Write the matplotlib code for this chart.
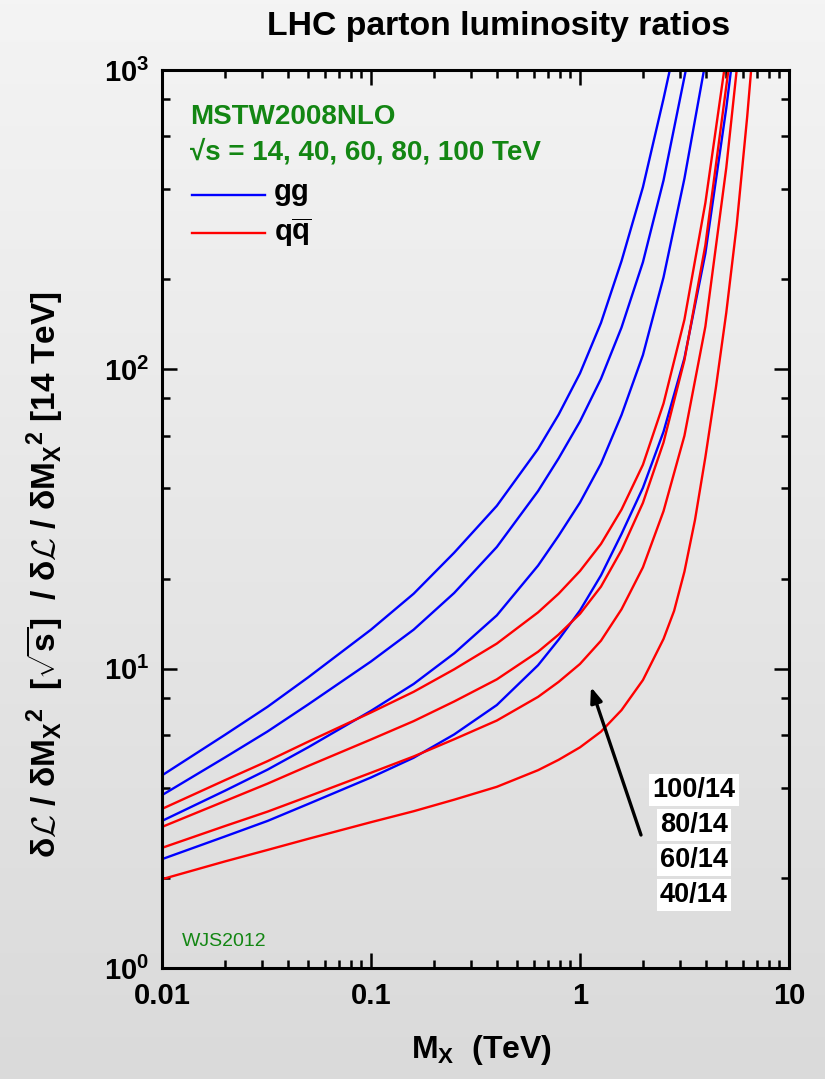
import numpy as np
import matplotlib
matplotlib.use('Agg')
import matplotlib.pyplot as plt
from matplotlib.colors import LinearSegmentedColormap
from matplotlib.ticker import FixedLocator, LogLocator, NullFormatter

plt.rcParams['font.family'] = ['Liberation Sans', 'DejaVu Sans']
plt.rcParams['mathtext.fontset'] = 'custom'
plt.rcParams['mathtext.rm'] = 'Liberation Sans'
plt.rcParams['mathtext.bf'] = 'Liberation Sans:bold'
plt.rcParams['mathtext.it'] = 'Liberation Sans:italic'
plt.rcParams['mathtext.cal'] = 'cmsy10'

# gg luminosity ratios, sqrt(s) / 14 TeV
mx_gg100 = [0.01, 0.02, 0.032, 0.05, 0.1, 0.16, 0.25, 0.4, 0.63, 0.79, 1.0, 1.26, 1.58, 2.0, 2.51, 2.69]
gg100 = [4.40, 6.01, 7.46, 9.35, 13.5, 17.8, 24.4, 35.0, 54.2, 70.6, 97.0, 143, 230, 406, 802, 1000]

mx_gg80 = [0.01, 0.02, 0.032, 0.05, 0.1, 0.16, 0.25, 0.4, 0.63, 0.79, 1.0, 1.26, 1.58, 2.0, 2.51, 3.21]
gg80 = [3.78, 5.05, 6.17, 7.59, 10.57, 13.5, 17.9, 25.5, 39.2, 50.4, 67.0, 93.0, 138, 228, 428, 1000]

mx_gg60 = [0.01, 0.02, 0.032, 0.05, 0.1, 0.16, 0.25, 0.4, 0.63, 0.79, 1.0, 1.26, 1.58, 2.0, 2.51, 3.16, 3.92]
gg60 = [3.10, 3.91, 4.60, 5.46, 7.23, 8.89, 11.25, 15.07, 22.1, 27.8, 35.9, 48.4, 70.4, 111.6, 203, 434, 1000]

mx_gg40 = [0.01, 0.02, 0.032, 0.05, 0.1, 0.16, 0.25, 0.4, 0.63, 0.79, 1.0, 1.26, 1.58, 2.0, 2.51, 3.16, 3.98, 5.01, 5.28]
gg40 = [2.31, 2.75, 3.10, 3.53, 4.33, 5.04, 6.03, 7.56, 10.27, 12.5, 15.65, 20.5, 28.2, 40.2, 61.9, 109, 244, 745, 1000]

# q-qbar luminosity ratios
mx_qq100 = [0.01, 0.02, 0.032, 0.05, 0.1, 0.16, 0.25, 0.4, 0.63, 0.79, 1.0, 1.26, 1.58, 2.0, 2.51, 3.16, 3.98, 4.90]
qq100 = [3.40, 4.24, 4.91, 5.70, 7.14, 8.37, 9.95, 12.13, 15.42, 17.8, 21.2, 26.1, 34.0, 48.0, 76.9, 146.6, 360, 1000]

mx_qq80 = [0.01, 0.02, 0.032, 0.05, 0.1, 0.16, 0.25, 0.4, 0.63, 0.79, 1.0, 1.26, 1.58, 2.0, 2.51, 3.16, 3.98, 5.13]
qq80 = [2.96, 3.61, 4.13, 4.73, 5.80, 6.68, 7.77, 9.21, 11.39, 13.0, 15.25, 18.8, 24.9, 35.8, 57.0, 107.4, 260, 1000]

mx_qq60 = [0.01, 0.02, 0.032, 0.05, 0.1, 0.16, 0.25, 0.4, 0.63, 0.79, 1.0, 1.26, 1.58, 2.0, 2.51, 3.16, 3.98, 5.01, 5.62]
qq60 = [2.52, 2.98, 3.33, 3.74, 4.49, 5.09, 5.81, 6.71, 8.05, 9.03, 10.37, 12.40, 15.79, 21.8, 33.6, 60.0, 139, 471, 1000]

mx_qq40 = [0.01, 0.02, 0.032, 0.05, 0.1, 0.16, 0.25, 0.4, 0.63, 0.79, 1.0, 1.26, 1.58, 2.0, 2.51,
           2.82, 3.16, 3.55, 3.98, 4.47, 5.01, 5.62, 6.31, 6.59]
qq40 = [1.98, 2.27, 2.48, 2.70, 3.07, 3.34, 3.65, 4.03, 4.58, 4.96, 5.46, 6.16, 7.27, 9.16, 12.57,
        15.6, 21.1, 31.4, 50.9, 87.0, 154.6, 303, 699, 1000]

ratio_labels = ['100/14', '80/14', '60/14', '40/14']
x_major = [0.01, 0.1, 1, 10]
x_ticklabels = ['0.01', '0.1', '1', '10']
y_major = [1, 10, 100, 1000]
y_ticklabels = [r'$\mathbf{10^{0}}$', r'$\mathbf{10^{1}}$', r'$\mathbf{10^{2}}$', r'$\mathbf{10^{3}}$']

W, H = 825, 1079
GREEN = '#138613'
BLUE = '#0000ff'
RED = '#ff0000'


def fx(px):
    return px / W


def fy(py):
    return 1 - py / H


fig = plt.figure(figsize=(W / 100, H / 100), dpi=100)

# soft grey backdrop, lighter at the top
bg = fig.add_axes([0, 0, 1, 1], zorder=-10)
shade = LinearSegmentedColormap.from_list('shade', ['#f4f4f4', '#dadada'])
bg.imshow(np.linspace(0, 1, 256)[:, None], aspect='auto', cmap=shade,
          extent=[0, 1, 0, 1], origin='upper')
bg.axis('off')

ax = fig.add_axes([fx(162), fy(968), (789 - 162) / W, (968 - 70) / H])
ax.set_facecolor('none')

for mx, lum in [(mx_gg100, gg100), (mx_gg80, gg80), (mx_gg60, gg60), (mx_gg40, gg40)]:
    ax.plot(mx, lum, color=BLUE, lw=1.7, solid_joinstyle='round')
for mx, lum in [(mx_qq100, qq100), (mx_qq80, qq80), (mx_qq60, qq60), (mx_qq40, qq40)]:
    ax.plot(mx, lum, color=RED, lw=1.7, solid_joinstyle='round')

ax.set_xscale('log')
ax.set_yscale('log')
ax.set_xlim(0.01, 10)
ax.set_ylim(1, 1000)

ax.xaxis.set_major_locator(FixedLocator(x_major))
ax.xaxis.set_minor_locator(LogLocator(base=10, subs=range(2, 10)))
ax.xaxis.set_minor_formatter(NullFormatter())
ax.set_xticklabels(x_ticklabels, fontweight='bold')
ax.yaxis.set_major_locator(FixedLocator(y_major))
ax.yaxis.set_minor_locator(LogLocator(base=10, subs=[2, 4, 6, 8]))
ax.yaxis.set_minor_formatter(NullFormatter())
ax.set_yticklabels(y_ticklabels)

ax.tick_params(which='both', direction='in', top=True, right=True, width=1.8, labelsize=21)
ax.tick_params(which='major', length=11)
ax.tick_params(which='minor', length=6)
ax.tick_params(axis='x', pad=10)
ax.tick_params(axis='y', pad=9)
for sp in ax.spines.values():
    sp.set_linewidth(2.2)

fig.text(fx(499), fy(27), 'LHC parton luminosity ratios', ha='center', va='center',
         fontsize=24.3, fontweight='bold')
fig.text(fx(481), fy(1050), r'M$_\mathbf{X}$  (TeV)', ha='center', va='center',
         fontsize=23, fontweight='bold')
fig.text(fx(45), fy(575),
         r'δ$\mathcal{L}$ / δM$_\mathbf{X}$$^\mathbf{2}$  [$\mathbf{\sqrt{s}}$]  / '
         r'δ$\mathcal{L}$ / δM$_\mathbf{X}$$^\mathbf{2}$ [14 TeV]',
         rotation=90, ha='center', va='center', fontsize=24, fontweight='bold')

# PDF set and energies
fig.text(fx(190), fy(117), 'MSTW2008NLO', color=GREEN, fontsize=20,
         fontweight='bold', va='center')
fig.text(fx(190), fy(152), '√s = 14, 40, 60, 80, 100 TeV', color=GREEN, fontsize=20,
         fontweight='bold', va='center')

# line key
fig.add_artist(plt.Line2D([fx(192), fx(265)], [fy(195), fy(195)], color=BLUE, lw=1.7))
fig.add_artist(plt.Line2D([fx(192), fx(265)], [fy(233), fy(233)], color=RED, lw=1.7))
fig.text(fx(274), fy(192), 'gg', fontsize=21, fontweight='bold', va='center')
fig.text(fx(274), fy(232), r'q$\mathbf{\overline{q}}$', fontsize=21, fontweight='bold', va='center')

fig.text(fx(182), fy(942), 'WJS2012', color=GREEN, fontsize=14, va='center')

# energy-ratio labels and the arrow showing increasing sqrt(s)
for i, lab in enumerate(ratio_labels):
    fig.text(fx(694), fy(790 + 35 * i), lab, ha='center', va='center', fontsize=19.5,
             fontweight='bold',
             bbox=dict(facecolor='white', edgecolor='none', boxstyle='square,pad=0.12'))

ax.annotate('', xy=(fx(591), fy(687)), xytext=(fx(641), fy(835)),
            xycoords='figure fraction', textcoords='figure fraction',
            arrowprops=dict(arrowstyle='-|>,head_length=0.9,head_width=0.35',
                            lw=2.4, color='black', shrinkA=0, shrinkB=0))

fig.savefig('out.png', dpi=100)
